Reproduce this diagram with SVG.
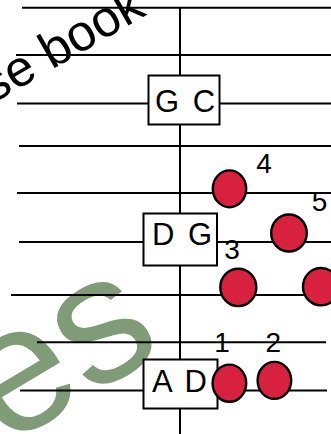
<svg xmlns="http://www.w3.org/2000/svg" width="331" height="434" viewBox="0 0 331 434">
<style>
.wm{font-family:"Liberation Sans",Arial,sans-serif}
.ln{stroke:#000;stroke-width:2;fill:none}
.box{fill:#fff;stroke:#000;stroke-width:2}
.bt{font-family:"Liberation Sans",Arial,sans-serif;font-size:31px;fill:#000;text-anchor:middle;word-spacing:5px}
.dot{fill:#d8203f;stroke:#000;stroke-width:2.4}
.num{font-family:"Liberation Sans",Arial,sans-serif;font-size:28px;fill:#000;text-anchor:middle}
</style>
<rect width="331" height="434" fill="#fff"/>
<g id="watermark">
<text class="wm" transform="translate(3.7,447.8) rotate(-31)" font-size="180" fill="#7f9b77">es</text>
<text class="wm" transform="translate(-7.2,103.7) rotate(-30)" font-size="51" fill="#000">se book</text>
</g>
<g id="connectors">
<line class="ln" x1="180" y1="7.7" x2="180" y2="434"/>
<line class="ln" x1="22" y1="7.7" x2="331" y2="7.7"/>
<line class="ln" x1="16" y1="55" x2="331" y2="55"/>
<line class="ln" x1="17" y1="103.5" x2="331" y2="103.5"/>
<line class="ln" x1="19" y1="146" x2="331" y2="146"/>
<line class="ln" x1="17" y1="193" x2="331" y2="193"/>
<line class="ln" x1="19" y1="242" x2="331" y2="242"/>
<line class="ln" x1="11" y1="295" x2="331" y2="295"/>
<line class="ln" x1="37" y1="342.3" x2="326" y2="342.3"/>
<line class="ln" x1="20" y1="390.5" x2="327" y2="390.5"/>
</g>
<g id="chord-GC">
<rect class="box" x="148.5" y="75.5" width="71" height="49"/>
<text class="bt" x="185" y="111.5">G C</text>
</g>
<g id="chord-DG">
<rect class="box" x="143.5" y="213.5" width="73.5" height="52"/>
<text class="bt" x="182" y="245">D G</text>
</g>
<g id="chord-AD">
<rect class="box" x="143.5" y="359.5" width="74" height="49"/>
<text class="bt" x="179.5" y="391.5">A D</text>
</g>
<g id="dot-4">
<ellipse class="dot" cx="229.5" cy="188.8" rx="16.7" ry="18.4"/>
<text class="num" x="264" y="173">4</text>
</g>
<g id="dot-5">
<ellipse class="dot" cx="289" cy="233" rx="17.8" ry="18.5"/>
<text class="num" x="319.5" y="210.5">5</text>
</g>
<g id="dot-3">
<ellipse class="dot" cx="238.3" cy="287.4" rx="18" ry="18.7"/>
<text class="num" x="232" y="258.5">3</text>
</g>
<g id="dot-6">
<ellipse class="dot" cx="321" cy="286.7" rx="18" ry="18.7"/>
</g>
<g id="dot-1">
<ellipse class="dot" cx="229.4" cy="383.2" rx="16.8" ry="18.6"/>
<text class="num" x="222" y="351.5">1</text>
</g>
<g id="dot-2">
<ellipse class="dot" cx="274.4" cy="380.4" rx="16.8" ry="18.5"/>
<text class="num" x="273.3" y="351.5">2</text>
</g>
</svg>
